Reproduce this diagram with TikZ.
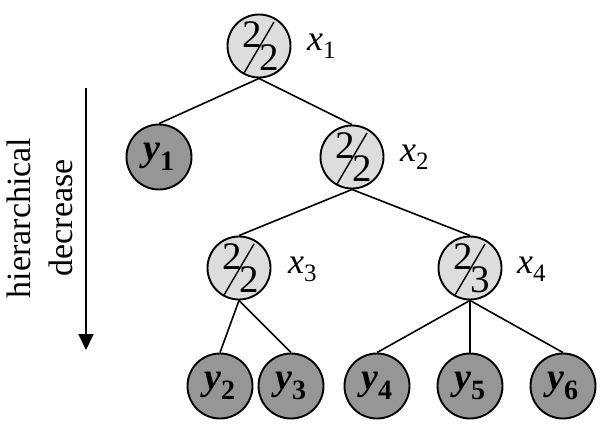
\documentclass[tikz,border=0pt]{standalone}
\usepackage{fontspec}
\setmainfont{Liberation Serif}
\usetikzlibrary{arrows.meta,calc}
\definecolor{lightfill}{RGB}{221,221,221}
\definecolor{darkfill}{RGB}{150,150,150}
\newcommand{\myfracnode}[5]{%
  \node[xnode] (#1) at (#2,#3) {};
  \node[dig] (#1u) at ($(#1)+(-7,-11)$) {#4};
  \node[dig] (#1d) at ($(#1)+(10,12)$) {#5};
  \draw[line width=1.4pt] ($(#1)+(-15,27)$) -- ($(#1)+(15,-24)$);
}
\newcommand{\ylab}[1]{\textit{y}\textsubscript{\upshape\fontsize{28}{30}\selectfont #1}}
\newcommand{\xlab}[1]{\textit{x}\textsubscript{\fontsize{25}{30}\selectfont #1}}
\begin{document}
\begin{tikzpicture}[x=1pt,y=-1pt,
  xnode/.style={circle,draw,line width=1.9pt,fill=lightfill,minimum size=63pt,inner sep=0pt},
  ynode/.style={circle,draw,line width=1.9pt,fill=darkfill,minimum size=65pt,inner sep=0pt,
    font=\fontsize{38}{40}\selectfont\bfseries},
  edge/.style={line width=1.6pt},
  lab/.style={anchor=west,inner sep=0pt,font=\fontsize{36}{40}\selectfont},
  dig/.style={inner sep=0pt,font=\fontsize{39}{42}\selectfont}]
\useasboundingbox (0,0) rectangle (600,434);
\myfracnode{x1}{259}{46}{2}{2}
\myfracnode{x2}{352}{157}{2}{2}
\myfracnode{x3}{239}{268}{2}{2}
\myfracnode{x4}{470}{268}{2}{3}
\node[lab] (lx1) at (307,46) {\xlab{1}};
\node[lab] (lx2) at (400,157) {\xlab{2}};
\node[lab] (lx3) at (288,269) {\xlab{3}};
\node[lab] (lx4) at (517,269) {\xlab{4}};
\node[ynode] (y1) at (159,157) {\ylab{1}};
\node[ynode] (y2) at (220,386) {\ylab{2}};
\node[ynode] (y3) at (291,386) {\ylab{3}};
\node[ynode] (y4) at (377,386) {\ylab{4}};
\node[ynode] (y5) at (470,386) {\ylab{5}};
\node[ynode] (y6) at (563,386) {\ylab{6}};
\draw[edge] (x1.south) -- (y1.north);
\draw[edge] (x1.south) -- (x2.north);
\draw[edge] (x2.south) -- (x3.north);
\draw[edge] (x2.south) -- (x4.north);
\draw[edge] (x3.south) -- (y2.north);
\draw[edge] (x3.south) -- (y3.north);
\draw[edge] (x4.south) -- (y4.north);
\draw[edge] (x4.south) -- (y5.north);
\draw[edge] (x4.south) -- (y6.north);
\coordinate (atop) at (86,88);
\coordinate (abot) at (86,350);
\draw[line width=2pt,-{Triangle[length=16pt,width=15pt]}] (atop) -- (abot);
\node[rotate=90,align=center,font=\fontsize{34}{42}\selectfont] (hd) at (40,218) {hierarchical\\decrease};
\end{tikzpicture}
\end{document}
